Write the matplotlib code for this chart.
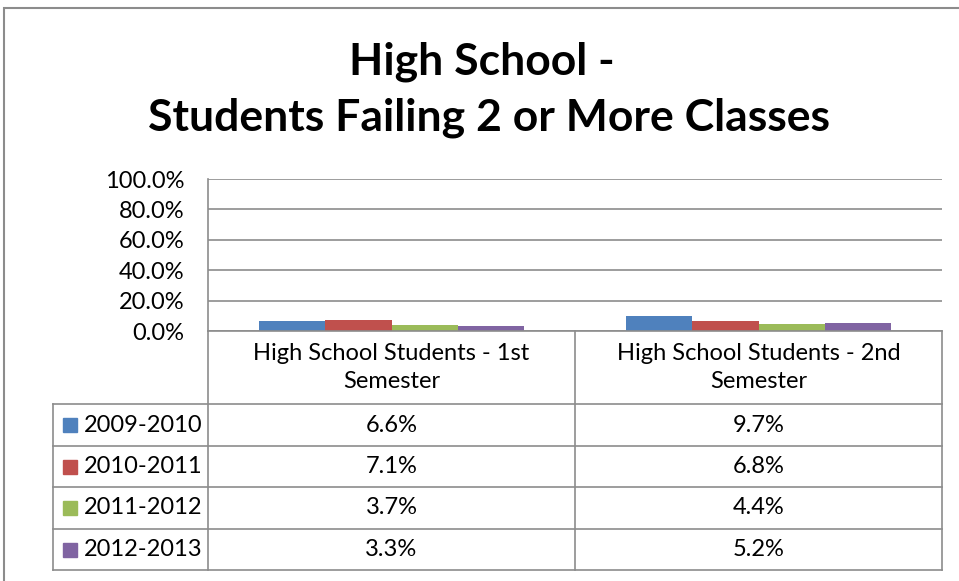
import matplotlib
matplotlib.use('Agg')
from matplotlib import pyplot as plt
from matplotlib.lines import Line2D
from matplotlib.patches import Rectangle
import numpy as np

plt.rcParams['font.family'] = ['Lato', 'DejaVu Sans']

categories = ['High School Students - 1st\nSemester', 'High School Students - 2nd\nSemester']
years = ['2009-2010', '2010-2011', '2011-2012', '2012-2013']
values = [
    [6.6, 9.7],
    [7.1, 6.8],
    [3.7, 4.4],
    [3.3, 5.2],
]
colors = ['#4F81BD', '#C0504D', '#9BBB59', '#8064A2']
yticks = [0, 20, 40, 60, 80, 100]

W, H = 959, 581
fig = plt.figure(figsize=(W / 100, H / 100), dpi=100)


def fx(x):
    return x / W


def fy(y):
    return 1 - y / H


def hline(x0, x1, y, c='#8c8c8c', lw=1.2):
    fig.add_artist(Line2D([fx(x0), fx(x1)], [fy(y), fy(y)], color=c, lw=lw))


def vline(x, y0, y1, c='#8c8c8c', lw=1.2):
    fig.add_artist(Line2D([fx(x), fx(x)], [fy(y0), fy(y1)], color=c, lw=lw))


# outer frame
fig.add_artist(Rectangle((fx(4), fy(600)), fx(980), fy(8) - fy(600), fill=False,
                         edgecolor='#8c8c8c', lw=1.5))

fig.text(fx(482), fy(62), 'High School -', ha='center', va='center',
         fontsize=32, fontweight='bold')
fig.text(fx(489), fy(118), 'Students Failing 2 or More Classes', ha='center',
         va='center', fontsize=32, fontweight='bold')

# plot area
left, right, top, bottom = 208, 942, 179, 331
ax = fig.add_axes([fx(left), fy(bottom), fx(right - left), fy(top) - fy(bottom)])
x = np.arange(len(categories))
bw = 0.18
for i, (yr, vals) in enumerate(zip(years, values)):
    ax.bar(x + (i - 1.5) * bw, vals, bw, color=colors[i], zorder=3)
ax.set_xlim(-0.5, len(categories) - 0.5)
ax.set_ylim(0, 100)
ax.set_yticks(yticks)
ax.set_yticklabels(['%.1f%%' % t for t in yticks], fontsize=17)
ax.tick_params(axis='y', length=0, pad=17)
ax.set_xticks([])
ax.grid(axis='y', color='#8c8c8c', lw=1.2, zorder=0)
for s in ['top', 'right', 'bottom']:
    ax.spines[s].set_visible(False)
ax.spines['left'].set_color('#8c8c8c')
ax.spines['left'].set_linewidth(1.2)

# data table
col_edges = [left, 575, right]
row_edges = [331, 404, 446, 487, 529, 570]
tab_left = 53
hline(left, right, row_edges[0])
for y in row_edges[1:]:
    hline(tab_left, right, y)
vline(tab_left, row_edges[1], row_edges[-1])
for xe in col_edges:
    vline(xe, row_edges[0], row_edges[-1])

centers = [(col_edges[j] + col_edges[j + 1]) / 2 for j in range(len(categories))]
for j, cat in enumerate(categories):
    fig.text(fx(centers[j]), fy((row_edges[0] + row_edges[1]) / 2), cat,
             ha='center', va='center', fontsize=17, linespacing=1.45)

for i, yr in enumerate(years):
    yc = (row_edges[i + 1] + row_edges[i + 2]) / 2
    fig.add_artist(Rectangle((fx(63), fy(yc + 7)), fx(14), fy(yc - 7) - fy(yc + 7),
                             color=colors[i]))
    fig.text(fx(84), fy(yc), yr, ha='left', va='center', fontsize=17)
    for j in range(len(categories)):
        fig.text(fx(centers[j]), fy(yc), '%.1f%%' % values[i][j],
                 ha='center', va='center', fontsize=17)

fig.savefig('out.png', dpi=100)
